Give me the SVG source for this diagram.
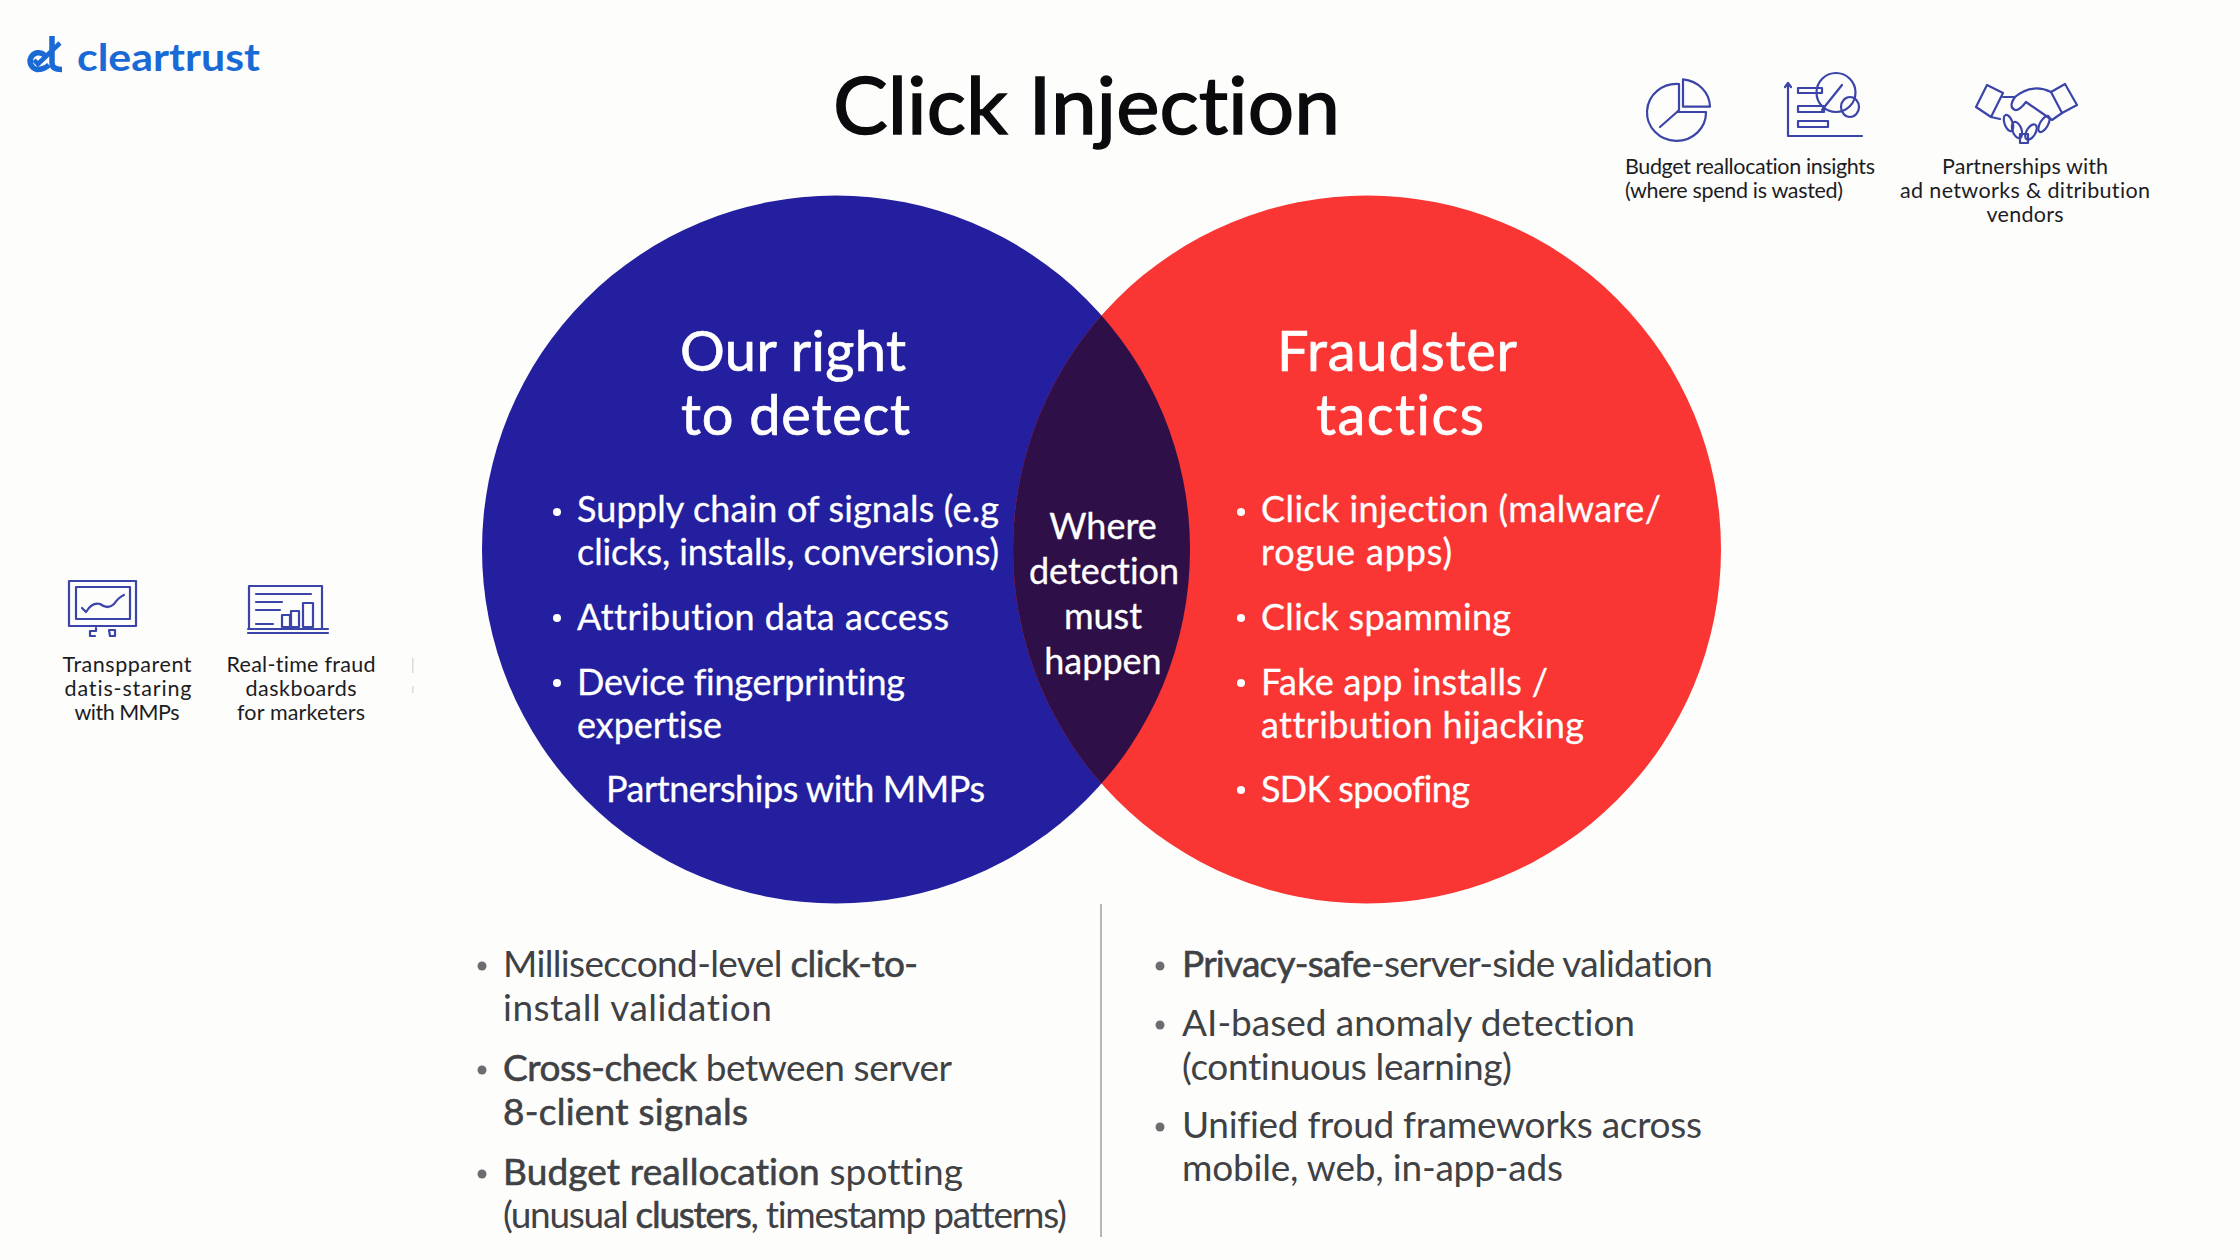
<svg xmlns="http://www.w3.org/2000/svg" width="2240" height="1260" viewBox="0 0 2240 1260">
<style>
text{font-family:"Lato","Noto Sans",sans-serif;font-variant-ligatures:none}
.h{font-size:56px;fill:#fff;stroke:#fff;stroke-width:.7}
.w{font-size:36px;fill:#fff;stroke:#fff;stroke-width:.3}
.wc{font-size:36px;fill:#fff;stroke:#fff;stroke-width:.3;text-anchor:middle}
.b{font-size:37px;fill:#3f4144}
.s{font-size:21.5px;fill:#1c1c1f;text-anchor:middle}
.sl{font-size:21.5px;fill:#1c1c1f}
.m{stroke:#3f4144;stroke-width:.6}
.i{fill:none;stroke:#3b44a8;stroke-width:2.2;stroke-linejoin:round;stroke-linecap:round}
.lg{fill:none;stroke:#1a6ad6}
</style>
<defs><clipPath id="cb"><circle cx="836" cy="549.5" r="354"/></clipPath></defs>
<rect width="2240" height="1260" fill="#fdfdfc"/>
<g id="logo">
<path class="lg" stroke-width="5.500" d="M44.500 55 A8.500 8.500 0 1 0 37 69.500 Q44 69.500 49 65"/>
<path class="lg" stroke-width="4.500" d="M34 60 L38 64 L60 43"/>
<path class="lg" stroke-width="5.500" d="M52 36 V63 Q52 69.500 62 69.500"/>
<text x="77" y="71" font-size="38" font-weight="700" fill="#1a6ad6" textLength="183" lengthAdjust="spacingAndGlyphs">cleartrust</text>
</g>
<text id="title" x="833" y="134" font-size="80" fill="#0b0b0d" stroke="#0b0b0d" stroke-width="1.500" textLength="507" lengthAdjust="spacingAndGlyphs">Click Injection</text>
<g id="venn">
<circle id="blue" cx="836" cy="549.5" r="354" fill="#231f9e"/>
<circle id="red" cx="1367" cy="549.5" r="354" fill="#f93634"/>
<circle id="overlap" cx="1367" cy="549.500" r="354" fill="#2e0f47" clip-path="url(#cb)"/>
</g>
<g id="left-circle-text">
<text class="h" x="680" y="371" textLength="226">Our right</text>
<text class="h" x="681" y="435" textLength="229">to detect</text>
<text class="w" x="577" y="522" textLength="422">Supply chain of signals (e.g</text>
<text class="w" x="577" y="565" textLength="422">clicks, installs, conversions)</text>
<text class="w" x="577" y="630" textLength="372">Attribution data access</text>
<text class="w" x="577" y="695" textLength="328">Device fingerprinting</text>
<text class="w" x="577" y="738" textLength="145">expertise</text>
<text class="w" x="606" y="802" textLength="379">Partnerships with MMPs</text>
<circle cx="557" cy="512" r="4" fill="#fff"/><circle cx="557" cy="618" r="4" fill="#fff"/><circle cx="557" cy="683" r="4" fill="#fff"/>
</g>
<g id="right-circle-text">
<text class="h" x="1277" y="371" textLength="240">Fraudster</text>
<text class="h" x="1316" y="435" textLength="168">tactics</text>
<text class="w" x="1261" y="522" textLength="400">Click injection (malware/</text>
<text class="w" x="1261" y="565" textLength="191">rogue apps)</text>
<text class="w" x="1261" y="630" textLength="250">Click spamming</text>
<text class="w" x="1261" y="695" textLength="287">Fake app installs /</text>
<text class="w" x="1261" y="738" textLength="323">attribution hijacking</text>
<text class="w" x="1261" y="802" textLength="209">SDK spoofing</text>
<circle cx="1241" cy="512" r="4" fill="#fff"/><circle cx="1241" cy="618" r="4" fill="#fff"/><circle cx="1241" cy="683" r="4" fill="#fff"/><circle cx="1241" cy="790" r="4" fill="#fff"/>
</g>
<g id="overlap-text">
<text class="wc" x="1103" y="539">Where</text>
<text class="wc" x="1104" y="584">detection</text>
<text class="wc" x="1103" y="629">must</text>
<text class="wc" x="1103" y="674">happen</text>
</g>
<line id="divider" x1="1101" y1="904" x2="1101" y2="1237" stroke="#b5b7bb" stroke-width="2"/>
<g id="bottom-left">
<text class="b" x="503" y="977" textLength="415">Milliseccond-level <tspan class="m">click-to-</tspan></text>
<text class="b" x="503" y="1021" textLength="269">install validation</text>
<text class="b" x="503" y="1081" textLength="449"><tspan class="m">Cross-check</tspan> between server</text>
<text class="b" x="503" y="1125" textLength="245"><tspan class="m">8-client signals</tspan></text>
<text class="b" x="503" y="1185" textLength="460"><tspan class="m">Budget reallocation</tspan> spotting</text>
<text class="b" x="503" y="1228" textLength="564">(unusual <tspan class="m">clusters</tspan>, timestamp patterns)</text>
<circle cx="482" cy="966" r="4.500" fill="#6b6d70"/><circle cx="482" cy="1070" r="4.500" fill="#6b6d70"/><circle cx="482" cy="1174" r="4.500" fill="#6b6d70"/>
</g>
<g id="bottom-right">
<text class="b" x="1182" y="977" textLength="531"><tspan class="m">Privacy-safe</tspan>-server-side validation</text>
<text class="b" x="1182" y="1036" textLength="453">AI-based anomaly detection</text>
<text class="b" x="1182" y="1080" textLength="330">(continuous learning)</text>
<text class="b" x="1182" y="1138" textLength="520">Unified froud frameworks across</text>
<text class="b" x="1182" y="1181" textLength="381">mobile, web, in-app-ads</text>
<circle cx="1160" cy="966" r="4.500" fill="#6b6d70"/><circle cx="1160" cy="1025" r="4.500" fill="#6b6d70"/><circle cx="1160" cy="1127" r="4.500" fill="#6b6d70"/>
</g>
<g id="node-budget">
<g class="i">
<path d="M1679 84 A29.500 28.500 0 1 0 1706 112 L1677 112 L1660 127 M1679 84 V110 L1677 112"/>
<path d="M1683 79.300 A30 28 0 0 1 1710 106.700 L1683 106.700 Z"/>
<path d="M1788 83 V136 H1862 M1785 87 L1788 83 L1791 87"/>
<rect x="1798" y="88" width="24" height="5"/><rect x="1798" y="106" width="26" height="6"/><rect x="1798" y="121" width="30" height="6"/>
<circle cx="1836" cy="92.500" r="19.500"/><ellipse cx="1850" cy="107" rx="9" ry="10"/><path d="M1822 110 L1842 85"/>
</g>
<text class="sl" x="1625" y="174" textLength="250">Budget reallocation insights</text>
<text class="sl" x="1625" y="198" textLength="218">(where spend is wasted)</text>
</g>
<g id="node-partnerships">
<g class="i">
<path d="M1987 85 L2003 93 L1991 117 L1976 107 Z M2065 84 L2077 105 L2062 113 L2051 92 Z"/>
<path d="M2003 97 H2015 Q2032 83 2051 92 M2015 97 Q2008 107 2015 110 Q2019 111 2026 102 L2052 120 L2062 113 M1991 117 L2000 119"/>
<ellipse cx="2008.500" cy="123" rx="4" ry="8.500" transform="rotate(-20 2008.500 123)"/><ellipse cx="2017" cy="130" rx="4.500" ry="8.500" transform="rotate(-20 2017 130)"/><ellipse cx="2031" cy="132" rx="4.500" ry="8.500" transform="rotate(30 2031 132)"/><ellipse cx="2044" cy="124" rx="4" ry="9" transform="rotate(30 2044 124)"/><rect x="2020" y="134" width="8" height="9"/>
</g>
<text class="s" x="2025" y="174" textLength="166">Partnerships with</text>
<text class="s" x="2025" y="198" textLength="250">ad networks &amp; ditribution</text>
<text class="s" x="2025" y="222" textLength="77">vendors</text>
</g>
<g id="node-transparent">
<g class="i">
<rect x="69" y="581" width="67" height="45"/><rect x="76" y="587" width="54" height="32"/>
<path d="M82 608 L86 612 Q92 602 100 604 Q108 610 114 604 Q119 597 124 595"/>
<path d="M90 636 V631 H96 V628 M90 636 H95 M109 630 H115 V636 H110 Z"/>
</g>
<text class="s" x="127" y="672" textLength="129">Transpparent</text>
<text class="s" x="128" y="696" textLength="127">datis-staring</text>
<text class="s" x="127" y="720" textLength="105">with MMPs</text>
</g>
<g id="node-dashboards">
<g class="i">
<path d="M249 629 V586 H322 V629 M248 629 H328 M248 633 H328 M256 594 H311 M256 602 H282 M256 610 H280 M256 624 H273"/>
<rect x="282" y="615" width="8" height="12"/><rect x="291" y="611" width="8" height="16"/><rect x="303" y="603" width="10" height="24"/>
</g>
<text class="s" x="301" y="672" textLength="149">Real-time fraud</text>
<text class="s" x="301" y="696" textLength="111">daskboards</text>
<text class="s" x="301" y="720" textLength="128">for marketers</text>
</g>
<g id="faint-marks" fill="#d9d9d9"><rect x="412" y="658" width="1.500" height="15"/><rect x="412" y="686" width="1.500" height="7"/></g>
</svg>
